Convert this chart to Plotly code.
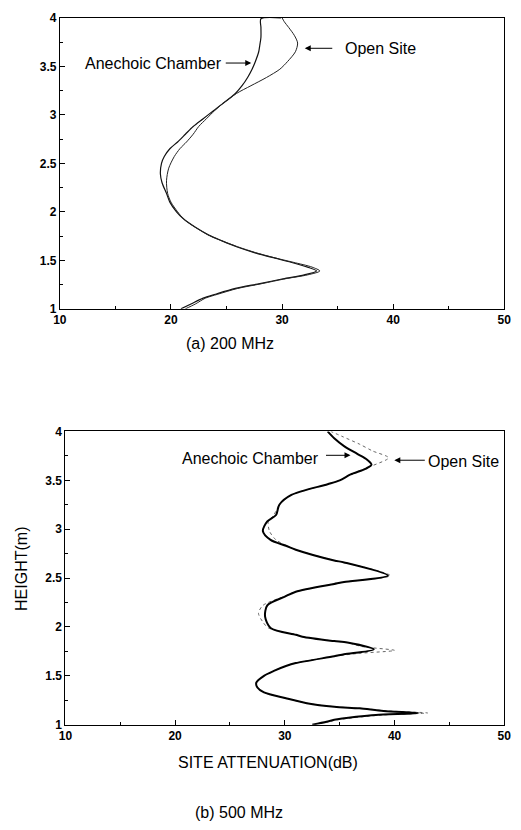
import plotly.graph_objects as go

# ---------------- data ----------------
# (a) 200 MHz
h200_ane = [1.00, 1.05, 1.11, 1.15, 1.21, 1.26, 1.31, 1.35, 1.39, 1.43, 1.48, 1.53, 1.58, 1.64, 1.70,
            1.76, 1.84, 1.92, 2.00, 2.10, 2.19, 2.30, 2.39, 2.50, 2.57, 2.65, 2.72, 2.80, 2.88, 2.96,
            3.04, 3.11, 3.22, 3.30, 3.385, 3.47, 3.55, 3.65, 3.72, 3.80, 3.90, 3.99, 4.00]
db200_ane = [20.9, 21.8, 22.9, 24.0, 25.8, 28.0, 30.1, 32.0, 33.1, 32.3, 30.8, 29.1, 27.5, 25.9, 24.6,
             23.4, 22.2, 21.2, 20.5, 19.9, 19.6, 19.2, 19.05, 19.15, 19.4, 19.9, 20.6, 21.3, 22.0, 22.9,
             23.8, 24.6, 25.8, 26.4, 26.9, 27.3, 27.6, 27.9, 28.0, 28.1, 28.1, 28.1, 29.9]

h200_open = [1.00, 1.05, 1.11, 1.15, 1.21, 1.26, 1.31, 1.35, 1.39, 1.43, 1.48, 1.53, 1.58, 1.64, 1.70,
             1.76, 1.84, 1.92, 2.00, 2.10, 2.19, 2.32, 2.45, 2.57, 2.65, 2.72, 2.80, 2.88, 2.96, 3.04,
             3.11, 3.22, 3.30, 3.385, 3.47, 3.55, 3.65, 3.74, 3.82, 3.90, 3.96, 4.00]
db200_open = [21.3, 22.2, 23.1, 24.2, 26.0, 28.2, 30.3, 32.3, 33.4, 32.7, 31.0, 29.2, 27.6, 26.0, 24.6,
              23.4, 22.2, 21.2, 20.6, 20.0, 19.7, 19.6, 19.8, 20.3, 20.8, 21.4, 22.0, 22.5, 23.2, 23.9,
              24.6, 25.9, 27.2, 28.6, 29.8, 30.5, 31.2, 31.4, 31.1, 30.6, 30.2, 30.0]

# (b) 500 MHz
h500_ane = [1.00, 1.03, 1.05, 1.08, 1.10, 1.12, 1.14, 1.167, 1.183, 1.22, 1.27, 1.33, 1.38, 1.43,
            1.50, 1.55, 1.60, 1.63, 1.70, 1.72, 1.77, 1.84, 1.855, 1.90, 1.92, 1.99, 2.105, 2.22,
            2.31, 2.36, 2.44, 2.46, 2.525, 2.66, 2.68, 2.79, 2.83, 2.89, 2.98, 3.08, 3.145, 3.25,
            3.35, 3.46, 3.50, 3.56, 3.62, 3.66, 3.71, 3.77, 3.85, 3.93, 4.00]
db500_ane = [32.5, 33.8, 34.5, 36.5, 38.3, 42.2, 39.0, 36.8, 34.5, 32.0, 30.1, 28.1, 27.5, 27.4,
             28.1, 29.0, 30.1, 31.0, 34.5, 35.4, 38.1, 35.7, 34.5, 31.6, 31.0, 28.7, 28.2, 28.4,
             30.0, 31.0, 34.5, 35.4, 39.4, 35.4, 34.5, 31.0, 30.1, 28.7, 28.0, 28.4, 29.2, 29.5,
             30.6, 33.9, 35.0, 36.0, 37.4, 37.9, 37.5, 36.6, 35.4, 34.5, 33.9]

h500_open = [1.00, 1.03, 1.05, 1.08, 1.10, 1.12, 1.14, 1.167, 1.183, 1.22, 1.27, 1.33, 1.38, 1.43,
             1.50, 1.55, 1.60, 1.63, 1.70, 1.73, 1.76, 1.80, 1.84, 1.855, 1.90, 1.92, 1.99, 2.05,
             2.14, 2.22, 2.31, 2.36, 2.44, 2.46, 2.525, 2.66, 2.68, 2.79, 2.83, 2.89, 2.98, 3.08,
             3.145, 3.25, 3.35, 3.46, 3.50, 3.56, 3.65, 3.73, 3.80, 3.87, 3.95, 4.00]
db500_open = [32.6, 34.0, 34.8, 37.0, 39.0, 43.0, 39.5, 37.0, 34.6, 32.0, 30.1, 28.1, 27.5, 27.4,
              28.1, 29.0, 30.1, 31.0, 34.5, 36.8, 40.0, 37.0, 35.7, 34.5, 31.6, 31.0, 28.5, 28.0,
              27.6, 28.0, 29.9, 31.0, 34.5, 35.4, 39.6, 35.4, 34.5, 31.0, 30.2, 29.2, 28.6, 28.5,
              29.0, 29.5, 30.6, 33.9, 35.0, 36.0, 38.0, 39.45, 38.0, 36.8, 35.2, 34.2]

x_ticks = [10, 20, 30, 40, 50]
y_ticks = [1, 1.5, 2, 2.5, 3, 3.5, 4]
y_ticklabels = ["1", "1.5", "2", "2.5", "3", "3.5", "4"]

# ---------------- figure ----------------
W, H = 521, 830
FONT = "Liberation Sans, Arial, Helvetica, sans-serif"

def px(x):
    return x / W

def py(y):
    return 1 - y / H

fig = go.Figure()

fig.add_trace(go.Scatter(x=db200_ane, y=h200_ane, mode="lines", xaxis="x", yaxis="y",
                         line=dict(color="#111111", width=1.2, shape="spline", smoothing=0.8),
                         showlegend=False))
fig.add_trace(go.Scatter(x=db200_open, y=h200_open, mode="lines", xaxis="x", yaxis="y",
                         line=dict(color="#222222", width=1.0, shape="spline", smoothing=0.8),
                         showlegend=False))
fig.add_trace(go.Scatter(x=db500_open, y=h500_open, mode="lines", xaxis="x2", yaxis="y2",
                         line=dict(color="#666666", width=1.0, dash="dot", shape="spline", smoothing=0.8),
                         showlegend=False))
fig.add_trace(go.Scatter(x=db500_ane, y=h500_ane, mode="lines", xaxis="x2", yaxis="y2",
                         line=dict(color="#000000", width=2.0, shape="spline", smoothing=0.8),
                         showlegend=False))

tickfont = dict(family=FONT, size=12, color="black", weight="bold")

def xaxis(domain, anchor):
    return dict(domain=domain, anchor=anchor, range=[10, 50], tickvals=x_ticks,
                ticks="inside", ticklen=5, tickcolor="black", tickwidth=1,
                minor=dict(ticks="inside", ticklen=3, dtick=5, tickcolor="black"),
                showline=True, linecolor="black", linewidth=1, mirror=True,
                showgrid=False, zeroline=False, tickfont=tickfont, fixedrange=True)

def yaxis(domain, anchor):
    return dict(domain=domain, anchor=anchor, range=[1, 4], tickvals=y_ticks, ticktext=y_ticklabels,
                ticks="inside", ticklen=5, tickcolor="black", tickwidth=1,
                minor=dict(ticks="inside", ticklen=3, dtick=0.25, tickcolor="black"),
                showline=True, linecolor="black", linewidth=1, mirror=True,
                showgrid=False, zeroline=False, tickfont=tickfont, fixedrange=True)

annots = []

def text(x, y, s, xanchor="left", size=16, angle=0):
    annots.append(dict(x=px(x), y=py(y), xref="paper", yref="paper", text=s, showarrow=False,
                       xanchor=xanchor, yanchor="middle", textangle=angle,
                       font=dict(family=FONT, size=size, color="black")))

def arrow(x0, x1, y):
    annots.append(dict(x=px(x1), y=py(y), xref="paper", yref="paper", text="",
                       showarrow=True, ax=x0 - x1, ay=0, arrowhead=2, arrowsize=1.2,
                       arrowwidth=1, arrowcolor="black", standoff=0, startstandoff=0))

# top panel labels
text(78, 57, "Anechoic Chamber")
arrow(224, 251, 57)
text(345, 42, "Open Site")
arrow(335, 306, 42)
text(229, 342, "(a) 200 MHz", xanchor="center")

# bottom panel labels
text(178, 459, "Anechoic Chamber")
arrow(327, 353, 456)
text(431, 462, "Open Site")
arrow(430, 398, 461)
text(268, 768, "SITE ATTENUATION(dB)", xanchor="center")
text(238, 819, "(b) 500 MHz", xanchor="center")
text(15, 572, "HEIGHT(m)", xanchor="center", angle=-90)

fig.update_layout(
    width=W, height=H,
    margin=dict(l=0, r=0, t=0, b=0),
    paper_bgcolor="white", plot_bgcolor="white",
    font=dict(family=FONT, color="black"),
    xaxis=xaxis([px(54.3), px(511)], "y"),
    yaxis=yaxis([py(307), py(11)], "x"),
    xaxis2=xaxis([px(60), px(511)], "y2"),
    yaxis2=yaxis([py(730), py(431.7)], "x2"),
    annotations=annots,
    showlegend=False,
)

fig.write_html("out.html", config={"displayModeBar": False},
               post_script="document.body.style.margin='0';document.body.style.overflow='hidden';")
